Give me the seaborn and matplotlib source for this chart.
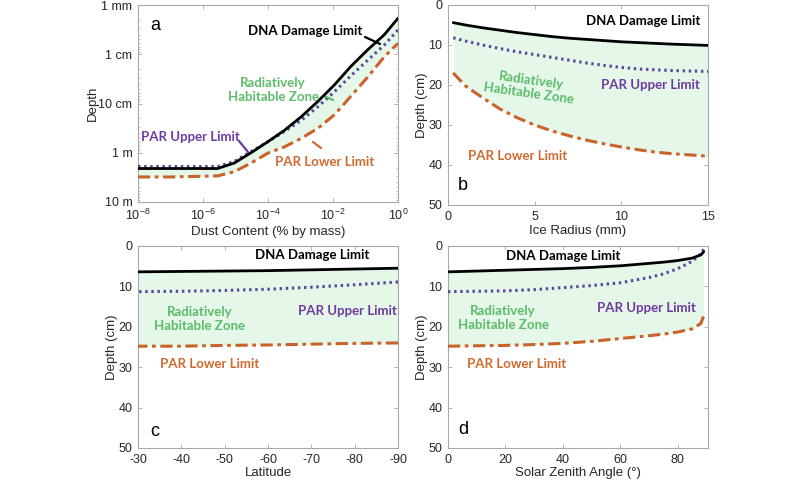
import numpy as np
import pandas as pd
import matplotlib
matplotlib.use('Agg')
import matplotlib.pyplot as plt
import seaborn as sns

# panel a: dust content (% by mass) vs depth (m)
dust = [1e-8, 1e-7, 1e-6, 2.8e-6, 9.1e-6, 3.0e-5, 9.8e-5, 3.2e-4, 1.05e-3, 3.4e-3, 1.1e-2, 3.5e-2, 0.117, 0.38, 1.0]
dust_dna = [2.09, 2.09, 2.09, 2.09, 1.62, 1.0, 0.60, 0.35, 0.186, 0.091, 0.042, 0.0178, 0.0081, 0.0040, 0.00186]
dust_par_up = [1.9, 1.9, 1.9, 1.9, 1.51, 0.95, 0.60, 0.37, 0.22, 0.117, 0.058, 0.0275, 0.0132, 0.0065, 0.0032]
dust_par_low = [3.1, 3.1, 3.0, 2.95, 2.43, 1.62, 1.02, 0.76, 0.51, 0.32, 0.17, 0.072, 0.029, 0.0112, 0.006]

# panel b: ice radius (mm) vs depth (cm)
radius = [0.3, 1, 2, 3, 4, 5, 6, 7, 8, 9, 10, 11, 12, 13, 14, 15]
radius_dna = [4.4, 5.0, 5.7, 6.3, 6.9, 7.4, 7.9, 8.3, 8.6, 8.9, 9.2, 9.4, 9.6, 9.8, 9.95, 10.1]
radius_par_up = [8.2, 9.0, 10.0, 10.9, 11.7, 12.4, 13.1, 13.8, 14.5, 15.1, 15.6, 16.0, 16.2, 16.4, 16.5, 16.6]
radius_par_low = [17.0, 20.2, 23.2, 26.0, 28.2, 30.0, 31.5, 32.7, 33.8, 34.7, 35.5, 36.2, 36.8, 37.2, 37.5, 37.8]

# panel c: latitude vs depth (cm)
latitude = [-30, -40, -50, -60, -70, -80, -90]
lat_dna = [6.4, 6.3, 6.2, 6.1, 5.9, 5.7, 5.5]
lat_par_up = [11.3, 11.2, 11.0, 10.7, 10.2, 9.6, 8.9]
lat_par_low = [24.8, 24.8, 24.6, 24.5, 24.3, 24.1, 24.0]

# panel d: solar zenith angle vs depth (cm)
zenith = [0, 10, 20, 30, 40, 50, 60, 70, 75, 80, 85, 88, 89]
zen_dna = [6.4, 6.2, 6.0, 5.8, 5.6, 5.3, 4.9, 4.3, 4.0, 3.6, 3.0, 2.2, 1.4]
zen_par_up = [11.3, 11.2, 11.1, 10.8, 10.3, 9.8, 9.1, 7.8, 6.9, 5.6, 3.8, 1.9, 0.8]
zen_par_low = [24.8, 24.7, 24.6, 24.4, 24.1, 23.6, 22.9, 22.2, 21.8, 21.3, 20.5, 19.2, 17.3]

dust_ticks = [1e-8, 1e-6, 1e-4, 1e-2, 1]
dust_ticklabels = [r'$\mathregular{10^{-8}}$', r'$\mathregular{10^{-6}}$', r'$\mathregular{10^{-4}}$',
                   r'$\mathregular{10^{-2}}$', r'$\mathregular{10^{0}}$']
depth_ticks = [1e-3, 1e-2, 1e-1, 1, 10]
depth_ticklabels = ['1 mm', '1 cm', '10 cm', '1 m', '10 m']

sns.set_style('ticks')
plt.rcParams['font.family'] = ['Liberation Sans', 'DejaVu Sans']
plt.rcParams['mathtext.fontset'] = 'custom'
plt.rcParams['mathtext.rm'] = 'Liberation Sans'
plt.rcParams['axes.unicode_minus'] = False

BLACK = 'black'
PURPLE_LINE = '#5b4a9c'
PURPLE_TXT = '#6f3a9e'
ORANGE_LINE = '#c8632c'
ORANGE_TXT = '#cf6a2e'
GREEN_TXT = '#5dbb6a'
FILL = '#e4f7e9'
LBL = 'Lato'

W, H = 800, 480
fig = plt.figure(figsize=(8, 4.8), dpi=100)


def fp(x, y):
    return (x / W, 1 - y / H)


def box(x0, y0, x1, y1):
    return [x0 / W, 1 - y1 / H, (x1 - x0) / W, (y1 - y0) / H]


ax_a = fig.add_axes(box(138, 5, 398, 202))
ax_b = fig.add_axes(box(448, 5, 708, 205))
ax_c = fig.add_axes(box(138, 246, 398, 448))
ax_d = fig.add_axes(box(448, 246, 708, 448))


def draw(ax, x, dna, up, low):
    df = pd.DataFrame({'x': x, 'dna': dna, 'up': up, 'low': low})
    ax.fill_between(df['x'], df['dna'], df['low'], color=FILL, lw=0, zorder=1)
    sns.lineplot(data=df, x='x', y='dna', ax=ax, color=BLACK, lw=2, zorder=4)
    sns.lineplot(data=df, x='x', y='up', ax=ax, color=PURPLE_LINE, lw=2.2, zorder=3,
                 linestyle=(0, (0.8, 1.2)), dash_capstyle='butt')
    sns.lineplot(data=df, x='x', y='low', ax=ax, color=ORANGE_LINE, lw=2.2, zorder=3,
                 linestyle=(0, (4, 1.5, 1.2, 1.5)))


draw(ax_a, dust, dust_dna, dust_par_up, dust_par_low)
draw(ax_b, radius, radius_dna, radius_par_up, radius_par_low)
draw(ax_c, latitude, lat_dna, lat_par_up, lat_par_low)
draw(ax_d, zenith, zen_dna, zen_par_up, zen_par_low)

for ax in [ax_a, ax_b, ax_c, ax_d]:
    for s in ax.spines.values():
        s.set_visible(True)
        s.set_color('#a8a8a8')
        s.set_linewidth(0.8)
    ax.tick_params(direction='in', top=True, right=True, length=3, width=0.6,
                   color='#a8a8a8', labelsize=9, labelcolor='#262626', pad=4)
    ax.tick_params(which='minor', direction='in', top=True, right=True, length=1.5,
                   width=0.5, color='#a8a8a8')

ax_a.set_xscale('log')
ax_a.set_yscale('log')
ax_a.set_xlim(1e-8, 1)
ax_a.set_ylim(10, 1e-3)
ax_a.set_xticks(dust_ticks)
ax_a.set_xticklabels(dust_ticklabels)
ax_a.set_yticks(depth_ticks)
ax_a.set_yticklabels(depth_ticklabels)
ax_a.set_xlabel('Dust Content (% by mass)', fontsize=9.5, labelpad=2)
ax_a.set_ylabel('Depth', fontsize=9.5, labelpad=0)

ax_b.set_xlim(0, 15)
ax_b.set_ylim(50, 0)
ax_b.set_xticks([0, 5, 10, 15])
ax_b.set_yticks([0, 10, 20, 30, 40, 50])
ax_b.set_xlabel('Ice Radius (mm)', fontsize=9.5, labelpad=2)
ax_b.set_ylabel('Depth (cm)', fontsize=9.5, labelpad=0)

ax_c.set_xlim(-30, -90)
ax_c.set_ylim(50, 0)
ax_c.set_xticks([-30, -40, -50, -60, -70, -80, -90])
ax_c.set_yticks([0, 10, 20, 30, 40, 50])
ax_c.set_xlabel('Latitude', fontsize=9.5, labelpad=1)
ax_c.set_ylabel('Depth (cm)', fontsize=9.5, labelpad=0)

ax_d.set_xlim(0, 90.5)
ax_d.set_ylim(50, 0)
ax_d.set_xticks([0, 20, 40, 60, 80])
ax_d.set_yticks([0, 10, 20, 30, 40, 50])
ax_d.set_xlabel('Solar Zenith Angle (°)', fontsize=9.5, labelpad=1)
ax_d.set_ylabel('Depth (cm)', fontsize=9.5, labelpad=0)


def label(x, y, s, color, rot=0):
    fig.text(*fp(x, y), s, ha='center', va='center', color=color, fontsize=9.5,
             fontweight='bold', family=[LBL, 'DejaVu Sans'], rotation=rot,
             linespacing=1.15, zorder=6)


def pointer(x1, y1, x2, y2, color):
    ax_a.annotate('', xy=fp(x2, y2), xytext=fp(x1, y1), xycoords='figure fraction',
                  textcoords='figure fraction', annotation_clip=False,
                  arrowprops=dict(arrowstyle='-', color=color, lw=1.6, shrinkA=0, shrinkB=0))


def letter(x, y, s):
    fig.text(*fp(x, y), s, ha='center', va='center', fontsize=13, color='black')


# panel a annotations
label(305, 31, 'DNA Damage Limit', BLACK)
pointer(365, 37, 380, 44, BLACK)
label(273, 90, 'Radiatively\nHabitable Zone', GREEN_TXT)
pointer(324, 96, 333, 100, GREEN_TXT)
label(190, 137, 'PAR Upper Limit', PURPLE_TXT)
pointer(239, 141, 248, 152, PURPLE_TXT)
label(325, 162, 'PAR Lower Limit', ORANGE_TXT)
pointer(313, 142, 321, 148, ORANGE_TXT)
letter(155, 25, 'a')

# panel b annotations
label(643, 21, 'DNA Damage Limit', BLACK)
pointer(575, 35, 583, 29, BLACK)
label(530, 87, 'Radiatively\nHabitable Zone', GREEN_TXT, rot=-8)
label(650, 85, 'PAR Upper Limit', PURPLE_TXT)
pointer(590, 70, 597, 76, PURPLE_TXT)
label(518, 156, 'PAR Lower Limit', ORANGE_TXT)
pointer(568, 152, 577, 143, ORANGE_TXT)
letter(463, 185, 'b')

# panel c annotations
label(312, 255, 'DNA Damage Limit', BLACK)
pointer(245, 267, 253, 260, BLACK)
label(200, 319, 'Radiatively\nHabitable Zone', GREEN_TXT)
label(347, 311, 'PAR Upper Limit', PURPLE_TXT)
pointer(290, 295, 298, 302, PURPLE_TXT)
label(210, 364, 'PAR Lower Limit', ORANGE_TXT)
pointer(262, 359, 269, 352, ORANGE_TXT)
letter(155, 432, 'c')

# panel d annotations
label(563, 256, 'DNA Damage Limit', BLACK)
pointer(497, 268, 507, 261, BLACK)
label(503, 318, 'Radiatively\nHabitable Zone', GREEN_TXT)
label(646, 308, 'PAR Upper Limit', PURPLE_TXT)
pointer(588, 292, 597, 298, PURPLE_TXT)
label(517, 364, 'PAR Lower Limit', ORANGE_TXT)
pointer(567, 358, 575, 352, ORANGE_TXT)
letter(463, 430, 'd')

fig.savefig('out.png', dpi=100)
